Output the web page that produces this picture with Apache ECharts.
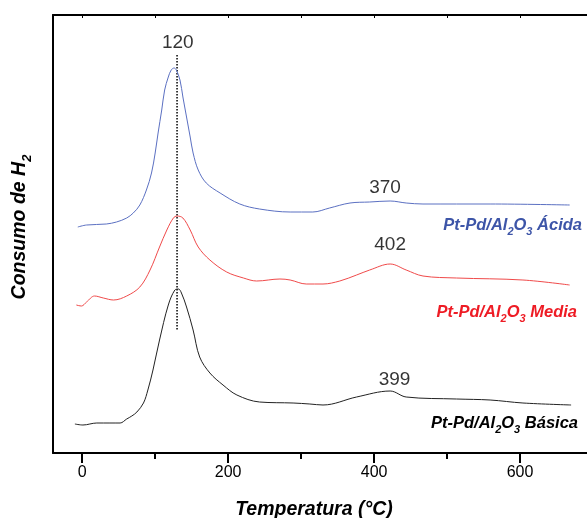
<!DOCTYPE html>
<html>
<head>
<meta charset="utf-8">
<script src="https://cdn.jsdelivr.net/npm/echarts@6/dist/echarts.min.js"></script>
<style>
html, body { margin: 0; padding: 0; background: #fff; }
#chart { width: 587px; height: 518px; }
</style>
</head>
<body>
<div id="chart"></div>
<script>
// TPR profiles (y in arbitrary units, curves already stacked)
const tempAcida = [-6, 6, 33, 47, 61, 70, 79, 88, 95, 100, 104, 109, 113, 118, 122, 126, 129, 134, 138, 143, 148, 152, 159, 170, 189, 216, 243, 285, 316, 339, 367, 394, 422, 444, 467, 559, 668]
const h2Acida = [226, 228, 229, 231, 235, 240, 248, 263, 280, 300, 320, 343, 363, 376, 383, 385, 383, 373, 356, 336, 316, 300, 283, 270, 260, 249, 244, 241, 241, 245, 250, 251, 252, 250, 249, 249, 248]

const tempMedia = [-8, -1, 6, 17, 29, 43, 61, 79, 93, 106, 116, 125, 130, 138, 148, 159, 175, 198, 221, 239, 271, 285, 307, 330, 353, 376, 394, 422, 444, 467, 513, 604, 668]
const h2Media = [148, 147, 151, 157, 155, 153, 157, 166, 183, 206, 223, 235, 237, 235, 223, 206, 193, 181, 175, 172, 174, 173, 169, 169, 172, 178, 183, 189, 183, 177, 175, 173, 168]

const tempBasica = [-10, 1, 20, 38, 52, 61, 68, 75, 84, 90, 97, 106, 118, 127, 132, 136, 143, 152, 161, 175, 193, 212, 243, 289, 312, 330, 376, 422, 444, 513, 559, 604, 670]
const h2Basica = [29, 28, 30, 30, 30, 34, 37, 41, 50, 63, 83, 113, 148, 163, 164, 160, 146, 123, 96, 80, 68, 58, 51, 50, 49, 48, 56, 62, 56, 54, 53, 50, 48]

// peak annotations
const peakText = ['120', '370', '402', '399']
const peakX = [131, 415, 422, 428]
const peakY = [410, 265, 208, 73]

// dotted guide through the main peak
const guideTemp = 130
const guideRange = [398, 123]

const majorTicks = [0, 200, 400, 600]
const minorTicks = [100, 300, 500]
const topTicks = [0, 100, 200, 300, 400, 500, 600, 700]

const zip = (xs, ys) => xs.map((x, i) => [x, ys[i]])

const chart = echarts.init(document.getElementById('chart'))

const subRich = (color) => ({
	m: { fontSize: 16.5, fontWeight: 'bold', fontStyle: 'italic', lineHeight: 20, fill: color },
	s: { fontSize: 11, fontWeight: 'bold', fontStyle: 'italic', lineHeight: 12, padding: [14, 0, 0, 0], fill: color }
})

const sampleLabel = (name, x, y, color) => ({
	type: 'text',
	x: x,
	y: y,
	style: {
		text: '{m|Pt-Pd/Al}{s|2}{m|O}{s|3}{m| ' + name + '}',
		rich: subRich(color),
		align: 'right',
		verticalAlign: 'middle',
		fill: color,
		fontFamily: 'Liberation Sans'
	}
})

const option = {
	animation: false,
	backgroundColor: '#fff',
	textStyle: { fontFamily: 'Liberation Sans, Arial, sans-serif' },
	grid: { left: 53, top: 15, right: -6, bottom: 65, containLabel: false, outerBoundsMode: 'none' },
	xAxis: [
		{
			type: 'value',
			position: 'bottom',
			min: -40,
			max: 700,
			axisLine: { onZero: false, lineStyle: { color: '#000', width: 2 } },
			axisTick: { customValues: majorTicks, length: 10, lineStyle: { color: '#000', width: 2 } },
			axisLabel: { customValues: majorTicks, color: '#000', fontSize: 16, margin: 12 },
			splitLine: { show: false },
			name: 'Temperatura (°C)',
			nameLocation: 'middle',
			nameGap: 47,
			nameTextStyle: {
				color: '#000',
				fontSize: 19.5,
				fontWeight: 'bold',
				fontStyle: 'italic',
				padding: [0, 18, 0, 0]
			}
		},
		{
			type: 'value',
			position: 'bottom',
			min: -40,
			max: 700,
			axisLine: { show: false, onZero: false },
			axisTick: { customValues: minorTicks, length: 6, lineStyle: { color: '#000', width: 2 } },
			axisLabel: { show: false },
			splitLine: { show: false }
		},
		{
			type: 'value',
			position: 'top',
			min: -40,
			max: 700,
			axisLine: { onZero: false, lineStyle: { color: '#000', width: 2 } },
			axisTick: { inside: true, customValues: topTicks, length: 3, lineStyle: { color: '#000', width: 1 } },
			axisLabel: { show: false },
			splitLine: { show: false }
		}
	],
	yAxis: {
		type: 'value',
		min: 0,
		max: 438,
		axisLine: { show: true, onZero: false, lineStyle: { color: '#000', width: 2 } },
		axisTick: { show: false },
		axisLabel: { show: false },
		splitLine: { show: false },
		name: '{m|Consumo de H}{s|2}',
		nameLocation: 'middle',
		nameGap: 22,
		nameTextStyle: {
			color: '#000',
			padding: [0, 0, 0, 14],
			rich: {
				m: { fontSize: 19.5, fontWeight: 'bold', fontStyle: 'italic', lineHeight: 22, color: '#000' },
				s: { fontSize: 13, fontWeight: 'bold', fontStyle: 'italic', lineHeight: 14, padding: [14, 0, 0, 0], color: '#000' }
			}
		}
	},
	graphic: [
		sampleLabel('Ácida', 582, 225, '#3d55a8'),
		sampleLabel('Media', 577, 312, '#ee1c25'),
		sampleLabel('Básica', 578, 423, '#000')
	],
	series: [
		{
			name: 'Ácida',
			type: 'line',
			showSymbol: false,
			smooth: 0.35,
			data: zip(tempAcida, h2Acida),
			lineStyle: { color: '#5b70c2', width: 1 }
		},
		{
			name: 'Media',
			type: 'line',
			showSymbol: false,
			smooth: 0.35,
			data: zip(tempMedia, h2Media),
			lineStyle: { color: '#f04a4a', width: 1 }
		},
		{
			name: 'Básica',
			type: 'line',
			showSymbol: false,
			smooth: 0.35,
			data: zip(tempBasica, h2Basica),
			lineStyle: { color: '#222', width: 1 }
		},
		{
			type: 'line',
			showSymbol: false,
			data: guideRange.map(v => [guideTemp, v]),
			lineStyle: { color: '#000', width: 1.5, type: [1.5, 1.5] },
			z: 1
		},
		{
			type: 'scatter',
			symbolSize: 0,
			data: peakText.map((t, i) => ({ name: t, value: [peakX[i], peakY[i]] })),
			label: {
				show: true,
				position: 'inside',
				formatter: '{b}',
				color: '#000',
				textBorderWidth: 0,
				fontSize: 19
			}
		}
	]
}

chart.setOption(option)
</script>
</body>
</html>
